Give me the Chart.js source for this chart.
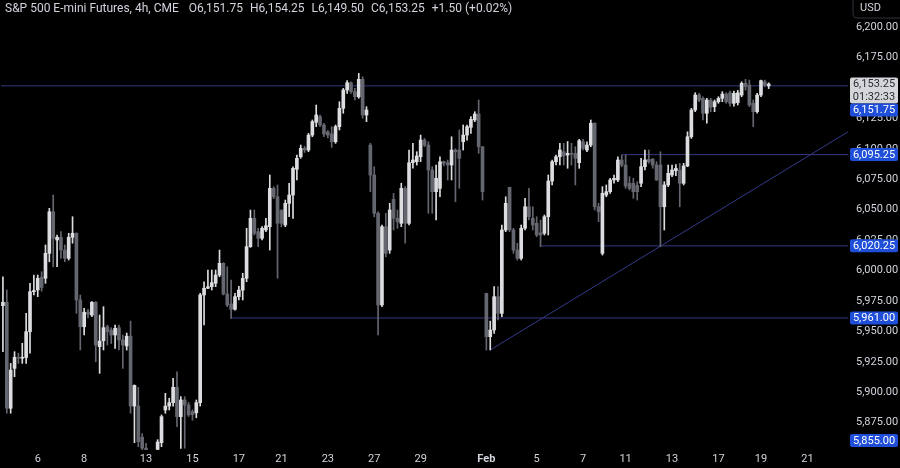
<!DOCTYPE html>
<html>
<head>
<meta charset="utf-8">
<script src="https://cdn.jsdelivr.net/npm/chart.js@4.4.1/dist/chart.umd.min.js"></script>
<style>
  html, body { margin: 0; padding: 0; background: #000; }
  #wrap { position: relative; width: 900px; height: 468px; }
  #title { position: absolute; left: 5px; top: 1px; font: 12px Roboto, sans-serif; line-height: 15px; color: #d1d4dc; white-space: pre; }
  #title span { margin-left: 7px; }
</style>
</head>
<body>
<div id="wrap">
  <canvas id="chart" width="900" height="468"></canvas>
  <div id="title">S&amp;P 500 E-mini Futures, 4h, CME <span>O6,151.75</span><span>H6,154.25</span><span>L6,149.50</span><span>C6,153.25</span><span>+1.50 (+0.02%)</span></div>
</div>
<script>
// 4h candles, Jan 3 -> Feb 19
const opens = [
  5971.1,5973.9,5886.8,5919.6,5928.7,5927.9,5928.5,5949.7,5982.6,5984.0,5994.5,5993.6,6014.1,6048.3,6025.1,6027.3,6016.8,6010.0,6027.3,6030.6,
  5975.8,5953.8,5966.0,5963.4,5973.9,5937.4,5942.3,5953.8,5951.0,5947.0,5953.0,5942.9,5938.0,5946.0,5888.6,5888.6,5863.0,5854.0,5842.0,5846.0,
  5853.0,5858.5,5885.4,5888.6,5891.4,5904.0,5879.9,5893.6,5889.5,5884.0,5883.0,5891.4,5979.9,5985.4,5986.7,5989.5,5996.3,6005.9,5980.7,5972.5,
  5968.1,5978.5,5983.9,5993.6,6019.6,6042.9,6031.9,6026.5,6033.3,6036.0,6067.5,6060.6,6049.7,6037.4,6055.2,6062.0,6083.2,6093.5,6100.4,6099.0,
  6111.3,6121.8,6126.4,6119.6,6114.0,6112.2,6105.8,6118.2,6133.3,6148.3,6154.3,6147.0,6142.8,6157.1,6127.8,6103.1,6078.5,6047.0,5971.7,6036.0,
  6016.8,6058.5,6042.9,6038.8,6067.5,6038.8,6088.6,6089.4,6093.5,6107.2,6103.1,6082.6,6064.8,6067.5,6089.4,6088.6,6086.7,6099.0,6099.0,6105.8,
  6111.3,6117.7,6123.7,6128.6,6101.7,5981.3,5945.6,5951.1,5978.5,5964.8,6033.3,6068.4,6033.3,6016.8,6010.0,6034.7,6052.4,6042.9,6038.8,6031.0,
  6030.6,6044.2,6073.5,6089.4,6093.5,6097.6,6094.9,6096.3,6096.3,6088.6,6105.8,6099.0,6103.1,6121.0,6052.4,6014.1,6062.0,6064.8,6074.4,6074.4,
  6090.8,6086.7,6071.7,6071.7,6070.0,6071.7,6085.3,6091.4,6091.4,6086.7,6086.7,6052.4,6070.3,6078.5,6082.0,6082.6,6071.7,6085.9,6109.9,6131.9,
  6144.2,6141.5,6129.2,6140.1,6134.6,6138.7,6141.5,6145.0,6146.0,6137.4,6138.0,6144.2,6153.8,6152.4,6137.4,6130.5,6144.2,6155.1,6151.75
];
const highs = [
  5994.9,5984.0,5923.7,5933.3,5932.0,5940.2,5964.8,5989.5,5996.3,5996.3,5999.0,6021.0,6051.1,6062.0,6029.2,6031.9,6021.0,6030.6,6044.2,6031.0,
  5979.9,5968.9,5968.0,5974.4,5974.5,5963.4,5970.3,5955.2,5953.0,5955.2,5955.2,5947.0,5948.6,5958.4,5906.0,5904.0,5866.0,5858.0,5850.0,5852.0,
  5861.0,5881.3,5899.1,5895.0,5911.4,5916.8,5896.3,5896.3,5891.6,5885.5,5893.6,5981.3,5990.8,6000.4,6000.4,6000.4,6016.8,6006.5,6003.1,5992.2,
  5981.3,5987.0,5997.7,6034.7,6049.7,6049.7,6034.7,6036.0,6042.9,6078.5,6068.9,6070.3,6049.7,6057.9,6071.7,6085.3,6094.9,6103.1,6102.0,6112.7,
  6123.7,6136.0,6127.8,6121.0,6115.0,6118.2,6119.6,6138.7,6149.7,6156.0,6155.1,6149.7,6162.0,6159.2,6134.6,6104.5,6085.3,6048.3,6037.4,6047.0,
  6055.2,6063.4,6049.7,6071.7,6068.9,6099.0,6104.5,6097.6,6111.3,6108.6,6105.8,6085.3,6086.7,6093.5,6090.0,6090.8,6109.9,6100.1,6115.5,6119.6,
  6119.6,6126.4,6130.5,6140.1,6101.7,5981.3,5958.4,5986.7,5986.7,6037.4,6060.6,6068.4,6034.7,6022.4,6037.4,6059.3,6067.5,6052.4,6044.2,6041.5,
  6045.6,6078.5,6090.8,6094.9,6104.5,6104.5,6106.0,6104.5,6101.7,6107.8,6107.8,6105.8,6123.7,6121.5,6055.2,6068.9,6070.3,6075.8,6078.5,6093.5,
  6094.9,6094.9,6077.1,6075.8,6073.0,6092.2,6099.0,6099.0,6092.2,6089.4,6097.6,6073.0,6086.7,6086.7,6087.0,6088.1,6088.1,6114.0,6133.3,6146.1,
  6145.6,6142.8,6141.5,6141.5,6140.1,6142.8,6147.0,6146.1,6147.5,6147.5,6148.0,6155.1,6157.1,6156.5,6140.1,6145.6,6156.5,6156.5,6154.25
];
const lows = [
  5933.3,5882.7,5882.7,5912.7,5923.7,5923.7,5923.7,5932.0,5979.9,5978.5,5983.0,5989.5,6007.2,6003.1,6003.1,6010.0,6007.2,6008.6,6022.4,5964.8,
  5934.7,5947.0,5961.0,5962.0,5925.0,5915.5,5934.7,5938.8,5940.0,5936.0,5934.7,5919.6,5934.6,5882.7,5858.5,5855.2,5848.0,5838.0,5833.0,5837.0,
  5848.0,5855.2,5882.7,5885.4,5888.6,5871.6,5853.9,5854.0,5880.0,5877.0,5879.0,5888.6,5955.2,5985.0,5984.0,5986.7,5994.9,5979.9,5970.3,5960.7,
  5967.5,5975.8,5975.8,5990.8,6019.0,6029.2,6019.6,6025.1,6031.9,6016.8,6059.0,5993.6,6036.0,6036.0,6044.2,6042.9,6074.4,6092.2,6097.0,6097.6,
  6109.9,6118.2,6118.2,6110.0,6109.0,6101.2,6104.5,6115.5,6129.2,6145.6,6145.6,6140.1,6141.5,6125.1,6122.3,6064.8,6044.2,5947.0,5970.3,6011.3,
  6014.1,6033.3,6034.7,6036.0,6022.4,6037.4,6084.0,6086.7,6089.4,6101.7,6047.0,6047.0,6041.5,6060.6,6086.0,6074.4,6074.4,6056.5,6067.5,6099.0,
  6107.2,6112.7,6122.3,6096.3,6057.9,5934.7,5934.7,5948.4,5959.3,5962.0,6031.9,6031.9,6014.1,6008.6,6008.6,6033.3,6041.5,6033.3,6027.8,6019.6,
  6029.2,6029.2,6070.3,6086.7,6086.7,6086.7,6084.0,6086.7,6070.3,6084.0,6099.0,6097.6,6101.7,6049.7,6040.1,6012.7,6060.6,6063.4,6071.7,6073.0,
  6085.3,6067.5,6066.1,6059.3,6057.9,6069.0,6082.6,6088.1,6084.0,6074.0,6019.6,6033.3,6068.9,6077.1,6078.0,6052.4,6070.3,6085.3,6108.6,6130.5,
  6138.7,6123.7,6121.0,6130.5,6130.5,6137.4,6138.7,6137.4,6135.0,6135.0,6136.0,6142.8,6148.3,6134.6,6118.2,6129.2,6142.8,6151.0,6149.5
];
const closes = [
  5973.9,5886.8,5918.2,5928.7,5927.9,5928.5,5949.7,5982.6,5983.5,5993.6,5986.0,6014.1,6048.3,6026.5,6027.3,6016.8,6010.0,6027.3,6030.6,5975.8,
  5953.8,5965.7,5964.0,5973.9,5938.8,5942.0,5953.0,5949.7,5947.0,5952.5,5942.9,5938.8,5946.0,5888.6,5905.6,5859.3,5854.0,5842.0,5846.0,5849.0,
  5859.0,5879.9,5888.6,5891.4,5904.0,5879.9,5893.6,5889.5,5881.3,5881.5,5891.4,5979.9,5985.4,5986.7,5990.0,5996.3,6005.9,5980.7,5971.7,5968.1,
  5978.5,5983.9,5993.6,6019.6,6042.9,6030.6,6026.5,6034.7,6036.8,6067.5,6060.6,6038.8,6038.8,6055.2,6062.0,6084.0,6092.2,6100.4,6099.0,6111.3,
  6122.3,6127.8,6119.6,6112.2,6111.3,6105.8,6118.2,6133.3,6148.3,6154.3,6147.0,6142.8,6157.1,6127.8,6131.9,6078.5,6047.0,5971.7,6036.0,6014.1,
  6049.7,6042.9,6040.1,6067.5,6038.8,6088.6,6090.8,6094.1,6107.2,6103.1,6082.6,6064.8,6075.8,6089.4,6088.1,6086.7,6099.0,6097.6,6092.2,6111.3,
  6118.2,6124.2,6128.6,6101.7,6064.8,5945.6,5951.1,5978.5,5964.8,6033.3,6055.2,6033.3,6016.8,6010.0,6034.7,6052.4,6044.2,6037.4,6029.2,6029.2,
  6044.2,6073.5,6089.4,6093.5,6099.0,6094.1,6096.3,6095.5,6092.2,6106.7,6100.4,6103.1,6121.0,6052.4,6048.3,6063.4,6064.8,6074.4,6075.8,6090.8,
  6086.7,6069.4,6067.5,6064.8,6064.8,6085.3,6090.8,6089.4,6086.7,6074.4,6052.4,6070.3,6079.9,6082.6,6084.0,6071.7,6085.9,6109.9,6131.9,6144.2,
  6140.1,6129.2,6140.1,6134.1,6138.7,6141.5,6145.0,6138.7,6137.4,6145.6,6146.0,6153.8,6151.1,6136.0,6130.5,6144.2,6156.0,6152.4,6153.25
];

// time axis: bar slots shown, and where the day labels sit
const totalSlots = 219;
const dayTicks = [9, 21, 37, 49, 61, 72, 84, 96, 108, 125, 138, 150, 161, 173, 185, 196, 208];
const dayLabels = ['6', '8', '13', '15', '17', '21', '23', '27', '29', 'Feb', '5', '7', '11', '13', '17', '19', '21'];

// drawn levels (price, first bar) and the rising trend line
const levels = [6151.75, 6095.25, 6020.25, 5961.00];
const levelStarts = [-0.5, 160, 139, 59];
const trendX = [126, 218.5];
const trendY = [5934.7, 6114.0];

const lastPrice = 6153.25;
const countdown = '01:32:33';
const lowMark = 5855.00;

const upColor = '#dcdde0';
const downColor = '#64676f';
const lineColor = '#343a86';
const tagBlue = '#1f4ed8';

const fmt = v => v.toLocaleString('en-US', { minimumFractionDigits: 2, maximumFractionDigits: 2 });

const idx = closes.map((_, i) => i);
const candleColors = idx.map(i => closes[i] >= opens[i] ? upColor : downColor);

const lineSets = levels.map((lv, k) => ({
  type: 'line',
  data: [{ x: levelStarts[k], y: lv }, { x: totalSlots - 0.5, y: lv }],
  borderColor: lineColor, borderWidth: 1, pointRadius: 0, order: 3
}));
lineSets.push({
  type: 'line',
  data: trendX.map((x, k) => ({ x, y: trendY[k] })),
  borderColor: lineColor, borderWidth: 1, pointRadius: 0, order: 3
});

// price tags on the right axis, stacked so they do not overlap
const tags = [
  { value: lastPrice, lines: [fmt(lastPrice), countdown], bg: '#d5d6da', fg: '#2b2d33' },
  ...levels.map(v => ({ value: v, lines: [fmt(v)], bg: tagBlue, fg: '#ffffff' })),
  { value: lowMark, lines: [fmt(lowMark)], bg: tagBlue, fg: '#ffffff' }
];

const tagPlugin = {
  id: 'priceTags',
  afterDraw(chart) {
    const ctx = chart.ctx;
    const y = chart.scales.y;
    const area = chart.chartArea;
    const left = area.right + 2;
    const w = 48;
    ctx.save();
    ctx.font = '11px Roboto, sans-serif';
    ctx.textAlign = 'center';
    ctx.textBaseline = 'middle';
    let prevBottom = -Infinity;
    tags.slice().sort((a, b) => b.value - a.value).forEach(t => {
      const h = t.lines.length * 13;
      let top = y.getPixelForValue(t.value) - 6.5;
      if (top < prevBottom) top = prevBottom;
      if (top + h > area.bottom - 3) top = area.bottom - 3 - h;
      ctx.fillStyle = t.bg;
      ctx.beginPath();
      ctx.roundRect(left, top, w, h, 2);
      ctx.fill();
      ctx.fillStyle = t.fg;
      t.lines.forEach((s, i) => ctx.fillText(s, left + w / 2, top + 7 + i * 12.5));
      prevBottom = top + h;
    });
    // currency box
    ctx.strokeStyle = '#2e323d';
    ctx.fillStyle = '#000';
    ctx.beginPath();
    ctx.roundRect(area.right + 5, -3, 60, 21, 4);
    ctx.fill();
    ctx.stroke();
    ctx.fillStyle = '#d1d4dc';
    ctx.textAlign = 'left';
    ctx.fillText('USD', area.right + 12, 8);
    ctx.restore();
  }
};

new Chart(document.getElementById('chart'), {
  type: 'bar',
  data: {
    datasets: [
      ...lineSets,
      {
        type: 'bar',
        data: idx.map(i => ({ x: i, y: [lows[i], highs[i]] })),
        backgroundColor: candleColors,
        barThickness: 1, grouped: false, order: 2
      },
      {
        type: 'bar',
        data: idx.map(i => ({ x: i, y: [opens[i], closes[i]] })),
        backgroundColor: candleColors,
        barThickness: 3, minBarLength: 1, grouped: false, order: 1
      }
    ]
  },
  options: {
    responsive: false,
    animation: false,
    devicePixelRatio: 1,
    layout: { padding: { left: 1, top: 0, right: 0, bottom: 0 } },
    plugins: { legend: { display: false }, tooltip: { enabled: false } },
    scales: {
      x: {
        type: 'linear',
        min: -0.5,
        max: totalSlots - 0.5,
        offset: false,
        grid: { display: false, drawTicks: false },
        border: { display: false },
        afterBuildTicks: ax => { ax.ticks = dayTicks.map(v => ({ value: v })); },
        afterFit: ax => { ax.height = 18; ax.paddingLeft = 0; ax.paddingRight = 0; },
        ticks: {
          autoSkip: false,
          maxRotation: 0,
          padding: 3,
          color: '#d1d4dc',
          font: c => ({ family: 'Roboto', size: 11, weight: dayLabels[c.index] === 'Feb' ? 'bold' : 'normal' }),
          callback: v => dayLabels[dayTicks.indexOf(v)]
        }
      },
      y: {
        position: 'right',
        min: 5852.5,
        max: 6222.3,
        grid: { display: false, drawTicks: false },
        border: { display: false },
        afterFit: ax => { ax.width = 52; ax.paddingTop = 0; ax.paddingBottom = 0; },
        ticks: {
          stepSize: 25,
          includeBounds: false,
          padding: 8,
          color: '#d1d4dc',
          font: { family: 'Roboto', size: 11 },
          callback: v => fmt(v)
        }
      }
    }
  },
  plugins: [tagPlugin]
});
</script>
</body>
</html>
